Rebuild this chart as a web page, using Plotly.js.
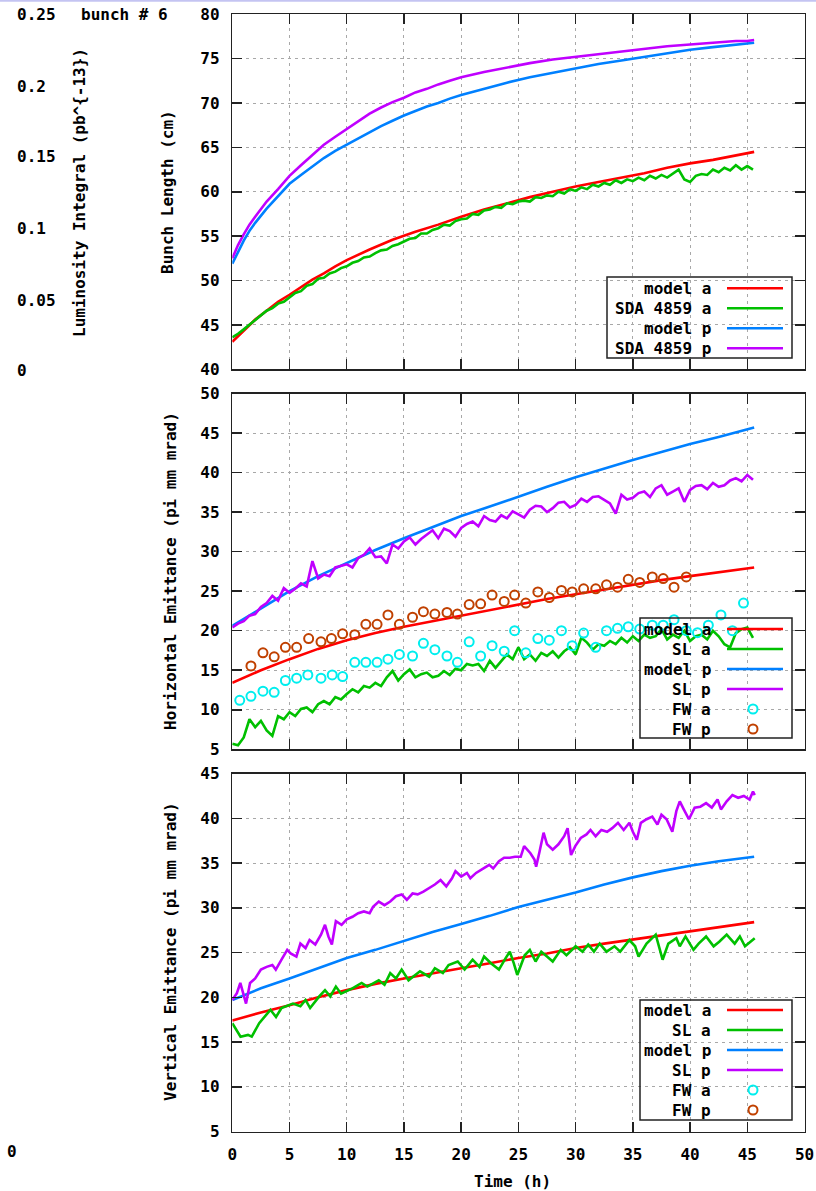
<!DOCTYPE html>
<html><head><meta charset="utf-8">
<script src="https://cdn.plot.ly/plotly-3.0.1.min.js"></script>
<style>html,body{margin:0;padding:0;background:#fff}#chart{width:816px;height:1191px}</style>
</head><body><div id="chart"></div>
<script>
// ---------------- DATA ----------------
const tHalf = [0,0.5,1,1.5,2,2.5,3,3.5,4,4.5,5,5.5,6,6.5,7,7.5,8,8.5,9,9.5,10,10.5,11,11.5,12,12.5,13,13.5,14,14.5,15,15.5,16,16.5,17,17.5,18,18.5,19,19.5,20,20.5,21,21.5,22,22.5,23,23.5,24,24.5,25,25.5,26,26.5,27,27.5,28,28.5,29,29.5,30,30.5,31,31.5,32,32.5,33,33.5,34,34.5,35,35.5,36,36.5,37,37.5,38,38.5,39,39.5,40,40.5,41,41.5,42,42.5,43,43.5,44,44.5,45,45.5];

// Panel 1: bunch length (cm)
const t1 = [0,0.5,1,1.5,2,3,4,5,6,7,8,9,10,11,12,13,14,15,16,17,18,19,20,22,24,26,28,30,32,34,36,38,40,42,44,45,45.6];
const bunchModelP = [51.9,53.3,54.5,55.6,56.5,58.1,59.5,60.9,61.9,62.9,63.8,64.6,65.3,66.0,66.7,67.4,68.0,68.6,69.1,69.6,70.0,70.5,70.9,71.6,72.3,72.9,73.4,73.9,74.4,74.8,75.2,75.6,76.0,76.3,76.6,76.7,76.8];
const bunchSdaP = [52.5,54.0,55.2,56.3,57.2,58.9,60.3,61.8,63.0,64.2,65.3,66.2,67.1,67.9,68.8,69.5,70.1,70.6,71.2,71.6,72.1,72.5,72.9,73.5,74.0,74.5,74.9,75.2,75.5,75.8,76.1,76.4,76.6,76.8,77.0,77.0,77.1];
const tRed1 = [0,1,2,3,4,5,6,7,8,9,10,12,14,16,18,20,22,24,26,28,30,32,34,36,38,40,42,44,45.6];
const bunchModelA = [43.1,44.4,45.6,46.6,47.6,48.4,49.3,50.1,50.8,51.6,52.3,53.5,54.6,55.5,56.3,57.2,58.0,58.7,59.4,60.0,60.6,61.1,61.6,62.1,62.7,63.2,63.6,64.1,64.5];
const bunchSdaA = [43.6,44.0,44.5,45.0,45.6,46.1,46.6,46.9,47.4,47.6,48.1,48.6,48.8,49.4,49.6,50.2,50.3,50.8,51.0,51.4,51.6,52.0,52.2,52.6,52.7,53.1,53.4,53.5,53.9,54.1,54.4,54.7,54.8,55.3,55.3,55.7,55.9,56.3,56.2,56.7,56.9,57.0,57.5,57.4,57.9,58.0,58.3,58.2,58.7,58.6,58.9,59.0,58.9,59.4,59.3,59.6,59.5,60.0,59.8,60.3,60.1,60.5,60.3,60.8,60.6,61.0,60.8,61.3,61.0,61.4,61.2,61.6,61.3,61.8,61.5,61.9,61.6,62.1,62.5,61.4,61.1,61.8,62.0,61.9,62.5,62.2,62.7,62.4,63.0,62.5,62.9,62.5];

// Panels 2 and 3: model curves
const tModel = [0,2.5,5,7.5,10,12.5,15,17.5,20,22.5,25,27.5,30,32.5,35,37.5,40,42.5,45,45.6];
const hModelA = [13.4,15.0,16.4,17.7,18.8,19.7,20.5,21.2,21.9,22.6,23.3,24.0,24.6,25.2,25.8,26.4,26.9,27.4,27.9,28.0];
const hModelP = [20.6,22.8,25.0,26.9,28.6,30.2,31.7,33.1,34.5,35.7,37.0,38.2,39.4,40.5,41.6,42.6,43.6,44.5,45.4,45.7];
const hSLa = [5.7,5.5,6.5,8.8,7.8,8.6,7.4,6.7,9.2,8.8,9.7,9.2,10.1,10.3,9.7,10.7,11.1,10.7,11.6,11.3,12.0,12.6,12.2,13.0,12.8,13.4,13.0,14.1,14.9,13.7,14.5,15.1,14.1,14.5,14.7,14.1,14.3,14.9,14.4,15.2,15.0,15.8,15.6,15.8,14.9,16.2,15.3,16.2,17.0,16.4,17.9,16.4,17.0,16.2,17.2,16.8,17.4,16.6,17.4,17.9,17.0,19.1,18.5,17.6,18.3,18.1,18.7,18.3,19.1,18.5,19.3,18.7,19.5,19.1,19.3,20.2,18.9,19.5,19.1,20.0,18.7,19.3,19.5,18.9,20.0,19.3,18.3,17.9,19.7,20.2,20.4,19.1];
const hSLp = [20.4,20.9,21.2,21.9,22.1,23.0,23.5,24.4,23.8,25.4,24.8,25.3,26.0,25.6,28.8,26.6,27.1,26.9,28.0,28.2,28.4,28.0,29.2,29.6,30.4,29.3,29.4,28.5,30.9,30.4,31.3,31.8,30.9,31.6,32.1,32.7,31.7,32.9,32.6,31.9,33.0,33.5,33.8,33.2,34.5,34.0,33.8,34.6,34.2,35.1,34.7,34.3,35.3,35.8,35.7,35.0,35.5,36.2,36.3,35.6,35.9,36.7,36.3,36.9,37.0,36.5,36.1,34.8,37.2,36.6,36.8,37.4,37.6,36.9,38.0,38.4,37.2,37.6,38.0,36.3,37.8,38.3,38.4,37.9,38.7,38.2,38.4,39.0,39.3,38.9,39.7,39.1];
const fwTa = [0.65,1.63,2.68,3.66,4.64,5.62,6.6,7.75,8.73,9.64,10.7,11.67,12.65,13.6,14.6,15.75,16.7,17.7,18.76,19.67,20.7,21.7,22.7,23.76,24.67,25.65,26.7,27.7,28.76,29.7,30.7,31.76,32.7,33.66,34.6,35.6,36.7,37.65,38.6,39.67,40.65,41.6,42.7,43.7,44.67];
const fwHa = [11.2,11.7,12.35,12.2,13.7,14.0,14.4,14.0,14.4,14.2,16.0,16.0,16.0,16.4,17.0,16.8,18.4,17.6,16.8,16.0,18.6,16.8,18.1,17.4,20.0,17.2,19.0,18.8,20.0,18.1,19.7,17.9,20.0,20.3,20.5,20.2,20.7,20.7,21.4,20.0,19.75,20.7,22.0,20.0,23.5];
const fwTp = [1.63,2.68,3.66,4.64,5.62,6.67,7.75,8.66,9.64,10.7,11.67,12.65,13.6,14.6,15.75,16.7,17.7,18.76,19.67,20.7,21.7,22.7,23.76,24.67,25.65,26.7,27.7,28.76,29.7,30.7,31.76,32.7,33.66,34.6,35.6,36.7,37.65,38.6,39.67];
const fwHp = [15.55,17.2,16.7,17.9,17.9,19.0,18.6,19.0,19.6,19.5,20.8,20.8,22.0,20.8,21.7,22.4,22.1,22.3,22.1,23.3,23.4,24.5,23.7,24.5,23.5,24.9,24.2,25.1,24.9,25.3,25.3,25.8,25.5,26.5,26.1,26.8,26.6,25.5,26.8];

// Panel 3: vertical emittance
const vModelA = [17.4,18.3,19.1,20.0,20.8,21.5,22.1,22.7,23.25,23.8,24.4,24.9,25.5,26.0,26.45,26.95,27.4,27.85,28.25,28.4];
const vModelP = [19.7,21.0,22.1,23.25,24.4,25.3,26.3,27.3,28.2,29.1,30.1,30.9,31.7,32.6,33.4,34.1,34.7,35.2,35.6,35.7];
const vSLaT = [0,0.72,1.37,1.7,2.35,2.68,3.33,3.82,4.3,5.3,5.95,6.4,6.8,7.6,8.1,8.56,9.05,9.5,10.5,11.3,11.8,12.8,13.3,13.8,14.3,14.8,15.4,16.4,17.2,17.7,18.4,18.9,19.7,20.3,21.0,21.6,22.0,22.6,23.3,23.9,24.25,24.6,24.9,25.55,26.0,26.5,27.0,27.5,28.0,28.7,29.2,30.0,30.6,31.1,31.6,32.1,32.7,33.4,33.9,34.7,35.2,35.5,36.2,37.0,37.3,37.6,38.1,38.8,39.1,39.6,40.3,40.75,41.4,42.06,42.55,43.2,43.9,44.35,44.8,45.65];
const vSLa = [17.1,15.6,15.8,15.6,17.1,17.65,18.6,17.8,18.8,19.3,19.0,19.7,18.8,20.1,20.8,20.1,21.2,20.4,21.0,21.6,21.2,21.9,21.4,22.7,22.1,23.1,21.9,22.9,22.3,23.25,22.7,23.6,24.0,23.1,24.2,23.4,24.55,23.8,23.1,24.4,25.1,23.8,22.5,24.7,25.3,24.0,25.1,24.55,24.0,25.3,24.7,25.7,25.1,25.9,25.1,26.0,25.1,25.7,25.1,26.4,25.7,24.55,26.0,27.0,25.7,24.2,26.0,26.6,25.7,26.8,25.3,26.0,26.8,25.7,26.2,27.0,26.0,26.8,25.7,26.6];
const vSLpT = [0,0.4,0.7,1.05,1.2,1.55,2.0,2.5,3.0,3.5,3.8,4.3,4.8,5.1,5.6,5.95,6.4,6.75,7.25,7.75,8.1,8.4,8.7,9.05,9.55,10.0,10.5,11.0,11.5,12.0,12.3,12.8,13.3,13.8,14.3,14.8,15.25,15.75,16.2,16.7,17.2,17.7,18.2,18.7,19.2,19.5,20.0,20.5,20.8,21.3,21.95,22.45,22.8,23.3,23.75,24.25,24.7,25.2,25.5,26.05,26.4,26.55,26.85,27.2,27.5,28.0,28.5,29.0,29.3,29.6,29.97,30.45,30.95,31.3,31.75,32.25,32.75,33.2,33.7,34.2,34.7,35.0,35.35,35.7,36.2,36.7,37.15,37.5,37.95,38.45,38.8,39.1,39.45,39.9,40.4,40.9,41.4,41.9,42.4,42.7,43.2,43.7,44.2,44.7,45.2,45.5,45.65];
const vSLp = [19.7,20.45,21.6,20.1,19.3,21.6,22.1,23.1,23.4,23.6,23.1,24.2,25.3,24.9,24.55,26.0,25.5,26.4,25.9,27.0,28.1,26.8,25.9,28.5,28.1,28.7,29.0,29.4,29.6,29.4,30.1,30.7,30.3,30.7,31.3,31.5,30.9,31.6,31.5,31.8,32.2,32.6,33.1,32.4,33.3,34.1,33.5,33.9,33.3,33.9,34.4,34.8,34.4,35.2,35.6,35.6,35.7,35.7,36.9,36.1,35.4,34.6,36.3,38.4,37.1,36.5,37.1,38.0,38.9,35.9,36.9,37.8,38.2,38.7,38.0,38.7,38.5,38.9,39.5,38.7,39.5,38.5,37.6,39.5,39.9,40.2,39.3,40.4,39.9,38.5,40.8,41.9,41.0,39.9,41.2,41.3,41.7,41.2,42.1,41.0,41.9,42.6,42.3,42.5,42.1,43.0,42.6];

// Labels
const legend1 = ['model a','SDA 4859 a','model p','SDA 4859 p'];
const legend23 = ['model a','SL a','model p','SL p','FW a','FW p'];
const lumiTicks = ['0.25','0.2','0.15','0.1','0.05','0'];
const titles = {lumi:'Luminosity Integral (pb^{-13})', bunch:'Bunch Length (cm)', horiz:'Horizontal Emittance (pi mm mrad)', vert:'Vertical Emittance (pi mm mrad)', time:'Time (h)', bunchNo:'bunch # 6'};

// ---------------- STYLE / LAYOUT ----------------
const W=816, H=1191;
const px = x => x/W, py = y => 1 - y/H;
const C = {red:'#ff0000', green:'#00c000', blue:'#0080ff', purple:'#c000ff', cyan:'#00eeee', brown:'#c04000'};
const F = {family:'DejaVu Sans Mono, monospace', size:16, color:'#000', weight:'bold'};
const LW = 2.6;

function ln(x,y,color,name,xa,ya){return {x:x,y:y,type:'scatter',mode:'lines',name:name,xaxis:xa,yaxis:ya,line:{color:color,width:LW},showlegend:false};}
function mk(x,y,color,name,xa,ya){return {x:x,y:y,type:'scatter',mode:'markers',name:name,xaxis:xa,yaxis:ya,marker:{symbol:'circle-open',size:9,color:color,line:{color:color,width:2}},showlegend:false};}

const traces = [
  ln(tRed1,bunchModelA,C.red,legend1[0],'x','y'),
  ln(tHalf,bunchSdaA,C.green,legend1[1],'x','y'),
  ln(t1,bunchModelP,C.blue,legend1[2],'x','y'),
  ln(t1,bunchSdaP,C.purple,legend1[3],'x','y'),
  ln(tModel,hModelA,C.red,legend23[0],'x2','y2'),
  ln(tHalf,hSLa,C.green,legend23[1],'x2','y2'),
  ln(tModel,hModelP,C.blue,legend23[2],'x2','y2'),
  ln(tHalf,hSLp,C.purple,legend23[3],'x2','y2'),
  mk(fwTa,fwHa,C.cyan,legend23[4],'x2','y2'),
  mk(fwTp,fwHp,C.brown,legend23[5],'x2','y2'),
  ln(tModel,vModelA,C.red,legend23[0],'x3','y3'),
  ln(vSLaT,vSLa,C.green,legend23[1],'x3','y3'),
  ln(tModel,vModelP,C.blue,legend23[2],'x3','y3'),
  ln(vSLpT,vSLp,C.purple,legend23[3],'x3','y3')
];

const axBase = {ticks:'inside', ticklen:10, tickwidth:1.5, tickcolor:'#222', mirror:'ticks', showline:true, linecolor:'#222', linewidth:1.5,
  showgrid:true, gridcolor:'#a8a8a8', griddash:'3px,4px', gridwidth:1, zeroline:false, tickfont:F, ticklabelstandoff:8, fixedrange:true};
const xdom = [px(232.3), px(804.5)];
function xAx(anchor, labels){return Object.assign({}, axBase, {domain:xdom, range:[0,50], tick0:0, dtick:5, anchor:anchor, showticklabels:labels});}
function yAx(anchor, dom, range){return Object.assign({}, axBase, {domain:dom, range:range, tick0:0, dtick:5, anchor:anchor});}

const annotations = [];
const shapes = [];
function txt(t,x,y,opts){annotations.push(Object.assign({text:t, x:px(x), y:py(y), xref:'paper', yref:'paper', showarrow:false, font:F, xanchor:'center', yanchor:'middle'}, opts||{}));}

// luminosity column (empty axis)
const lumiY = [15,86.7,156.7,228.3,300,370];
lumiTicks.forEach((t,i)=>txt(t,15,lumiY[i],{xanchor:'left'}));
txt('0',5,1151,{xanchor:'left'});
txt(titles.bunchNo,79,15,{xanchor:'left'});
txt(titles.lumi,79,193,{textangle:-90});
txt(titles.bunch,168,192,{textangle:-90});
txt(titles.horiz,170,571,{textangle:-90});
txt(titles.vert,170,952,{textangle:-90});
txt(titles.time,512,1181);

// legends (drawn manually: text right-aligned before the sample)
function legend(box, labels, colors, kinds, rowsY){
  shapes.push({type:'rect', xref:'paper', yref:'paper', x0:px(box[0]), x1:px(box[2]), y0:py(box[3]), y1:py(box[1]), line:{color:'#222', width:1.5}, fillcolor:'rgba(0,0,0,0)'});
  labels.forEach((lab,i)=>{
    txt(lab,713,rowsY[i],{xanchor:'right'});
    if(kinds[i]==='line'){
      shapes.push({type:'line', xref:'paper', yref:'paper', x0:px(727), x1:px(783), y0:py(rowsY[i]), y1:py(rowsY[i]), line:{color:colors[i], width:LW}});
    } else {
      shapes.push({type:'circle', xref:'paper', yref:'paper', xsizemode:'pixel', ysizemode:'pixel', xanchor:px(753), yanchor:py(rowsY[i]), x0:-4.5, x1:4.5, y0:-4.5, y1:4.5, line:{color:colors[i], width:2}});
    }
  });
}
legend([607,277,792,358], legend1, [C.red,C.green,C.blue,C.purple], ['line','line','line','line'], [288.3,308.3,328.3,348.3]);
const col6 = [C.red,C.green,C.blue,C.purple,C.cyan,C.brown];
const kind6 = ['line','line','line','line','mk','mk'];
legend([640,618,792,738], legend23, col6, kind6, [629,649,669,689,709,729]);
legend([640,1000,792,1120], legend23, col6, kind6, [1010,1030,1050,1070,1090,1110]);

// thin lavender frame line at the top of the picture
shapes.push({type:'line', xref:'paper', yref:'paper', x0:0, x1:1, y0:py(0.8), y1:py(0.8), line:{color:'#c4c4f2', width:2}});

const layout = {
  width:W, height:H, margin:{l:0,r:0,t:0,b:0}, paper_bgcolor:'#fff', plot_bgcolor:'#fff', showlegend:false, hovermode:false,
  font:F,
  xaxis: xAx('y', false),
  xaxis2: xAx('y2', false),
  xaxis3: xAx('y3', true),
  yaxis: yAx('x', [py(369.3), py(14.3)], [40,80]),
  yaxis2: yAx('x2', [py(749.3), py(393.5)], [5,50]),
  yaxis3: yAx('x3', [py(1131.5), py(773.6)], [5,45]),
  annotations: annotations, shapes: shapes
};
Plotly.newPlot('chart', traces, layout, {staticPlot:true, displayModeBar:false});
</script></body></html>
